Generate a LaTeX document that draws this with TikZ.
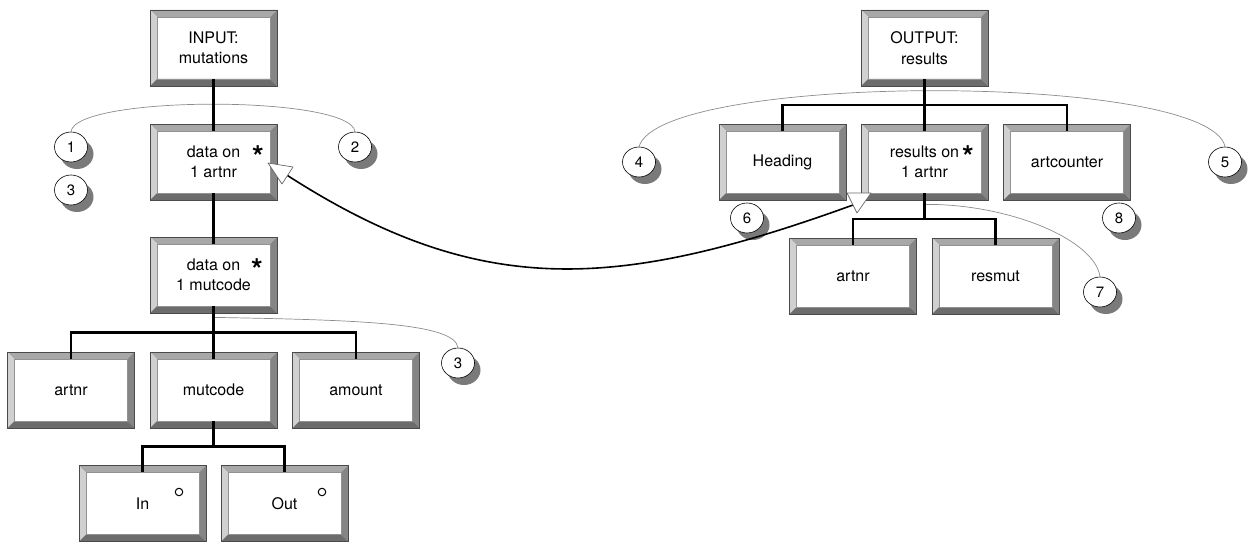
\documentclass[tikz,border=0pt]{standalone}
\usepackage{fontspec}
\setmainfont{TeX Gyre Heros}
\usetikzlibrary{shapes.geometric,shadows,calc}
\definecolor{bevtop}{HTML}{A8A8A8}
\definecolor{bevleft}{HTML}{D0D0D0}
\definecolor{bevright}{HTML}{858585}
\definecolor{bevbot}{HTML}{6C6C6C}
\definecolor{boxline}{HTML}{4A4A4A}
\definecolor{arcgray}{HTML}{8C8C8C}
\definecolor{shadowgray}{HTML}{7A7A7A}
\definecolor{trigray}{HTML}{6A6A6A}
\begin{document}
\begin{tikzpicture}[x=1pt,y=-1pt,
  bevelbox/.style={rectangle, draw=boxline, line width=0.8pt, fill=white,
    minimum width=127pt, minimum height=76pt, inner sep=0pt, align=center,
    font=\fontsize{16}{20.5}\selectfont,
    path picture={
      \path (path picture bounding box.north west) coordinate (ppnw)
            (path picture bounding box.north east) coordinate (ppne)
            (path picture bounding box.south west) coordinate (ppsw)
            (path picture bounding box.south east) coordinate (ppse);
      \fill[bevtop] (ppnw) -- (ppne) -- ([shift={(-7pt,-7pt)}]ppne) -- ([shift={(7pt,-7pt)}]ppnw) -- cycle;
      \fill[bevleft] (ppnw) -- (ppsw) -- ([shift={(7pt,7pt)}]ppsw) -- ([shift={(7pt,-7pt)}]ppnw) -- cycle;
      \fill[bevright] (ppne) -- (ppse) -- ([shift={(-7pt,7pt)}]ppse) -- ([shift={(-7pt,-7pt)}]ppne) -- cycle;
      \fill[bevbot] (ppsw) -- (ppse) -- ([shift={(-7pt,7pt)}]ppse) -- ([shift={(7pt,7pt)}]ppsw) -- cycle;
      \draw[boxline!60, line width=0.4pt] ([shift={(7pt,-7pt)}]ppnw) rectangle ([shift={(-7pt,7pt)}]ppse);
    }},
  numcirc/.style={ellipse, draw=black, line width=0.6pt, fill=white,
    minimum width=33pt, minimum height=30pt, inner sep=0pt,
    font=\fontsize{15}{17}\selectfont,
    drop shadow={shadow xshift=6pt, shadow yshift=-7pt, fill=shadowgray, opacity=1}},
  tree/.style={line width=2.6pt, line cap=butt},
  thinarc/.style={draw=arcgray, line width=0.7pt},
  starmark/.style={font=\fontsize{30}{30}\selectfont\bfseries, inner sep=0pt},
  optmark/.style={circle, draw=black, line width=1pt, minimum size=7.5pt, inner sep=0pt},
  link/.style={line width=1.6pt},
  tri/.style={fill=white, draw=trigray, line width=0.7pt, line join=round}
]
\useasboundingbox (0,0) rectangle (1251,543);

% ---------- boxes, left tree ----------
\node[bevelbox] (inp) at (213.5,48) {INPUT:\\mutations};
\node[bevelbox] (d1) at (213.5,162) {data on\\1 artnr};
\node[bevelbox] (dm) at (213.5,275) {data on\\1 mutcode};
\node[bevelbox] (lartnr) at (71,390) {artnr};
\node[bevelbox] (mutc) at (213.5,390) {mutcode};
\node[bevelbox] (amt) at (356,390) {amount};
\node[bevelbox] (inb) at (142.5,503.5) {In};
\node[bevelbox] (outb) at (284.5,503.5) {Out};

% ---------- boxes, right tree ----------
\node[bevelbox] (outp) at (924.5,48) {OUTPUT:\\results};
\node[bevelbox] (head) at (782.5,162) {Heading};
\node[bevelbox] (res) at (924.5,162) {results on\\1 artnr};
\node[bevelbox] (artc) at (1067,162) {artcounter};
\node[bevelbox] (rartnr) at (853,276) {artnr};
\node[bevelbox] (resmut) at (995.5,276) {resmut};

% ---------- markers ----------
\node[starmark] (st1) at (258,157) {*};
\node[starmark] (st2) at (257,270) {*};
\node[starmark] (st3) at (968,157) {*};
\node[optmark] (o1) at (179,492) {};
\node[optmark] (o2) at (322,492) {};

% ---------- numbered circles ----------
\node[numcirc] (c1) at (71,147) {1};
\node[numcirc] (c2) at (355,147) {2};
\node[numcirc] (c3a) at (71,190) {3};
\node[numcirc] (c3b) at (458,363) {3};
\node[numcirc] (c4) at (639,162) {4};
\node[numcirc] (c5) at (1225,162) {5};
\node[numcirc] (c6) at (747,218) {6};
\node[numcirc] (c7) at (1100,292) {7};
\node[numcirc] (c8) at (1119,218) {8};

% ---------- thin arcs ----------
\draw[thinarc] (c1.north) .. controls (75,95) and (351,95) .. (c2.north);
\draw[thinarc] (c4.north) .. controls (660,72) and (1210,72) .. (c5.north);
\coordinate (dmarc) at ($(dm.south)+(1.5,4)$);
\draw[thinarc] (dmarc) .. controls (350,320) and (455,322) .. (c3b.north);
\coordinate (resarc) at ($(res.south)+(1.5,4)$);
\draw[thinarc] (resarc) .. controls (1010,204) and (1095,240) .. (c7.north);

% ---------- tree connectors ----------
\draw[tree] ([yshift=7pt]inp.south) -- ([yshift=-7pt]d1.north);
\draw[tree] ([yshift=7pt]d1.south) -- ([yshift=-7pt]dm.north);
\coordinate (barA) at ($(dm.south)!.5!(mutc.north)$);
\coordinate (barB) at ($(mutc.south)!.5!(inb.north)$);
\coordinate (barC) at ($(outp.south)!.5!(res.north)$);
\coordinate (barD) at ($(res.south)!.5!(rartnr.north)$);
\foreach \c in {lartnr,mutc,amt}
  \draw[tree] ([yshift=7pt]dm.south) -- (dm.south |- barA) -| ([yshift=-7pt]\c.north);
\foreach \c in {inb,outb}
  \draw[tree] ([yshift=7pt]mutc.south) -- (mutc.south |- barB) -| ([yshift=-7pt]\c.north);
\foreach \c in {head,res,artc}
  \draw[tree] ([yshift=7pt]outp.south) -- (outp.south |- barC) -| ([yshift=-7pt]\c.north);
\foreach \c in {rartnr,resmut}
  \draw[tree] ([yshift=7pt]res.south) -- (res.south |- barD) -| ([yshift=-7pt]\c.north);

% ---------- correspondence link ----------
\coordinate (rtail) at (853,205);
\coordinate (dhead) at (287.5,175.5);
\draw[link] (rtail) .. controls (618,290) and (481,300) .. (dhead);
\draw[tri] (847,193) -- (871,193) -- (857,213) -- cycle;
\draw[tri] (268,163) -- (293,167) -- (282,184) -- cycle;
\end{tikzpicture}
\end{document}
